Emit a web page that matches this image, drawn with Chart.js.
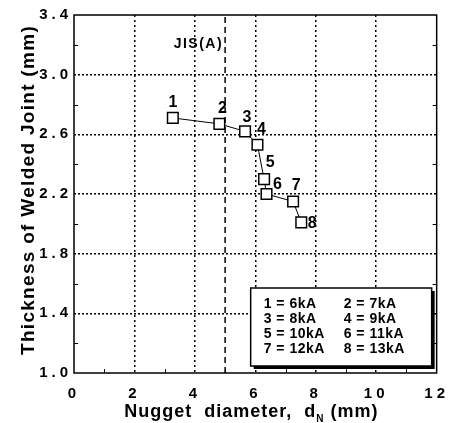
<!DOCTYPE html>
<html>
<head>
<meta charset="utf-8">
<script src="https://cdn.jsdelivr.net/npm/chart.js@4/dist/chart.umd.min.js"></script>
<style>
html, body { margin: 0; padding: 0; background: #fff; }
</style>
</head>
<body>
<canvas id="chart" width="457" height="423"></canvas>
<script>
// data
var pointLabels = ['1', '2', '3', '4', '5', '6', '7', '8'];
var currents = [6, 7, 8, 9, 10, 11, 12, 13]; // kA
var nuggetDiameter = [3.27, 4.81, 5.66, 6.07, 6.29, 6.37, 7.25, 7.52];
var thickness = [2.71, 2.67, 2.62, 2.53, 2.30, 2.20, 2.15, 2.01];
var jisLimit = 5;
var jisLabel = 'JIS(A)';

// where each point number sits relative to its marker (px)
var labelOffsets = [[0, -15], [3, -15], [2, -14], [4, -15], [6, -16], [11, -9], [3, -16], [11, 1]];

var FONT = "'Liberation Sans', Arial, sans-serif";

var points = nuggetDiameter.map(function (x, i) { return { x: x, y: thickness[i] }; });

var decorPlugin = {
    id: 'decor',
    beforeDraw: function (chart) {
        // spaced-out tick digits like the original
        chart.ctx.letterSpacing = '4px';
    },
    beforeDatasetsDraw: function (chart) {
        chart.ctx.letterSpacing = '0px';
    },
    afterDraw: function (chart) {
        var ctx = chart.ctx;
        var a = chart.chartArea;
        var xs = chart.scales.x, ys = chart.scales.y;
        ctx.save();
        ctx.letterSpacing = '0px';

        // minor ticks inside the frame
        ctx.strokeStyle = '#000';
        ctx.lineWidth = 1;
        ctx.beginPath();
        for (var v = 1; v < 12; v += 2) {
            var px = Math.round(xs.getPixelForValue(v)) + 0.5;
            ctx.moveTo(px, a.bottom);
            ctx.lineTo(px, a.bottom - 4);
        }
        for (var i = 1; i < 12; i += 2) {
            var py = Math.round(ys.getPixelForValue(1 + i * 0.2)) + 0.5;
            ctx.moveTo(a.left, py);
            ctx.lineTo(a.left + 4, py);
            ctx.moveTo(a.right, py);
            ctx.lineTo(a.right - 4, py);
        }
        ctx.stroke();

        // frame
        ctx.lineWidth = 1.5;
        ctx.strokeRect(a.left, a.top, a.right - a.left, a.bottom - a.top);

        // point numbers
        ctx.fillStyle = '#000';
        ctx.font = 'bold 16px ' + FONT;
        ctx.textAlign = 'center';
        ctx.textBaseline = 'middle';
        var meta = chart.getDatasetMeta(0);
        meta.data.forEach(function (el, i) {
            ctx.fillText(pointLabels[i], el.x + labelOffsets[i][0], el.y + labelOffsets[i][1]);
        });

        // JIS label
        ctx.font = 'bold 14px ' + FONT;
        ctx.letterSpacing = '1.5px';
        ctx.textAlign = 'right';
        ctx.fillText(jisLabel, xs.getPixelForValue(jisLimit) - 2, a.top + 29);

        // legend box with shadow
        var bx = a.right - 186, by = a.bottom - 85, bw = 181, bh = 78;
        ctx.fillStyle = '#000';
        ctx.fillRect(bx + 3, by + 3, bw, bh);
        ctx.fillStyle = '#fff';
        ctx.fillRect(bx, by, bw, bh);
        ctx.lineWidth = 1.5;
        ctx.strokeRect(bx, by, bw, bh);
        ctx.fillStyle = '#000';
        ctx.font = 'bold 14px ' + FONT;
        ctx.letterSpacing = '0.5px';
        ctx.textAlign = 'left';
        ctx.textBaseline = 'alphabetic';
        for (var k = 0; k < pointLabels.length; k++) {
            var col = k % 2, row = Math.floor(k / 2);
            ctx.fillText(pointLabels[k] + ' = ' + currents[k] + 'kA', bx + 13 + col * 80, by + 20 + row * 15);
        }

        // x axis title with subscript
        ctx.letterSpacing = '1px';
        ctx.font = 'bold 18px ' + FONT;
        var p1 = 'Nugget  diameter,  d', p3 = ' (mm)';
        var w1 = ctx.measureText(p1).width;
        var w3 = ctx.measureText(p3).width;
        ctx.font = 'bold 10px ' + FONT;
        var w2 = ctx.measureText('N').width;
        var start = (a.left + a.right) / 2 - (w1 + w2 + w3) / 2 - 4;
        var base = 417;
        ctx.font = 'bold 18px ' + FONT;
        ctx.fillText(p1, start, base);
        ctx.font = 'bold 10px ' + FONT;
        ctx.fillText('N', start + w1, base + 5);
        ctx.font = 'bold 18px ' + FONT;
        ctx.fillText(p3, start + w1 + w2, base);

        // y axis title
        ctx.font = 'bold 19px ' + FONT;
        ctx.letterSpacing = '1.3px';
        ctx.translate(34, 190);
        ctx.rotate(-Math.PI / 2);
        ctx.textAlign = 'center';
        ctx.fillText('Thickness of Welded Joint (mm)', 0, 0);

        ctx.restore();
    }
};

var ctx = document.getElementById('chart').getContext('2d');
var chart = new Chart(ctx, {
    type: 'scatter',
    data: {
        datasets: [{
            data: points,
            showLine: true,
            borderColor: '#000',
            borderWidth: 1,
            pointStyle: 'rect',
            pointRadius: 7.5,
            pointBorderWidth: 1.5,
            pointBackgroundColor: '#fff',
            pointBorderColor: '#000'
        }, {
            data: [{ x: jisLimit, y: 1.0 }, { x: jisLimit, y: 3.4 }],
            showLine: true,
            borderColor: '#000',
            borderWidth: 1.5,
            borderDash: [6, 4],
            pointRadius: 0
        }]
    },
    options: {
        responsive: false,
        animation: false,
        layout: { padding: { top: 15, right: 18, left: 0, bottom: 0 } },
        plugins: { legend: { display: false }, tooltip: { enabled: false } },
        scales: {
            x: {
                type: 'linear',
                min: 0, max: 12,
                afterFit: function (s) { s.height = 50; },
                border: { display: false, dash: [2, 3] },
                grid: {
                    drawTicks: false,
                    color: function (c) {
                        var v = c.tick ? c.tick.value : 0;
                        return (v > 0 && v < 12 && v % 2 === 0) ? '#000' : 'rgba(0,0,0,0)';
                    },
                    lineWidth: 1.5
                },
                ticks: {
                    stepSize: 1,
                    padding: 12,
                    color: '#000',
                    font: { family: FONT, size: 15, weight: 'bold' },
                    callback: function (v) { return v % 2 === 0 ? String(v) : ''; },
                    maxRotation: 0,
                    autoSkip: false
                }
            },
            y: {
                type: 'linear',
                min: 1.0, max: 3.4,
                afterFit: function (s) { s.width = 74; },
                border: { display: false, dash: [2, 2] },
                grid: {
                    drawTicks: false,
                    color: function (c) {
                        var i = c.index;
                        return (i > 0 && i < 12 && i % 2 === 0) ? '#000' : 'rgba(0,0,0,0)';
                    },
                    lineWidth: 1.5
                },
                ticks: {
                    stepSize: 0.2,
                    padding: 2,
                    color: '#000',
                    font: { family: FONT, size: 15, weight: 'bold' },
                    callback: function (v, i) { return i % 2 === 0 ? v.toFixed(1) : ''; },
                    autoSkip: false
                }
            }
        }
    },
    plugins: [decorPlugin]
});
</script>
</body>
</html>
